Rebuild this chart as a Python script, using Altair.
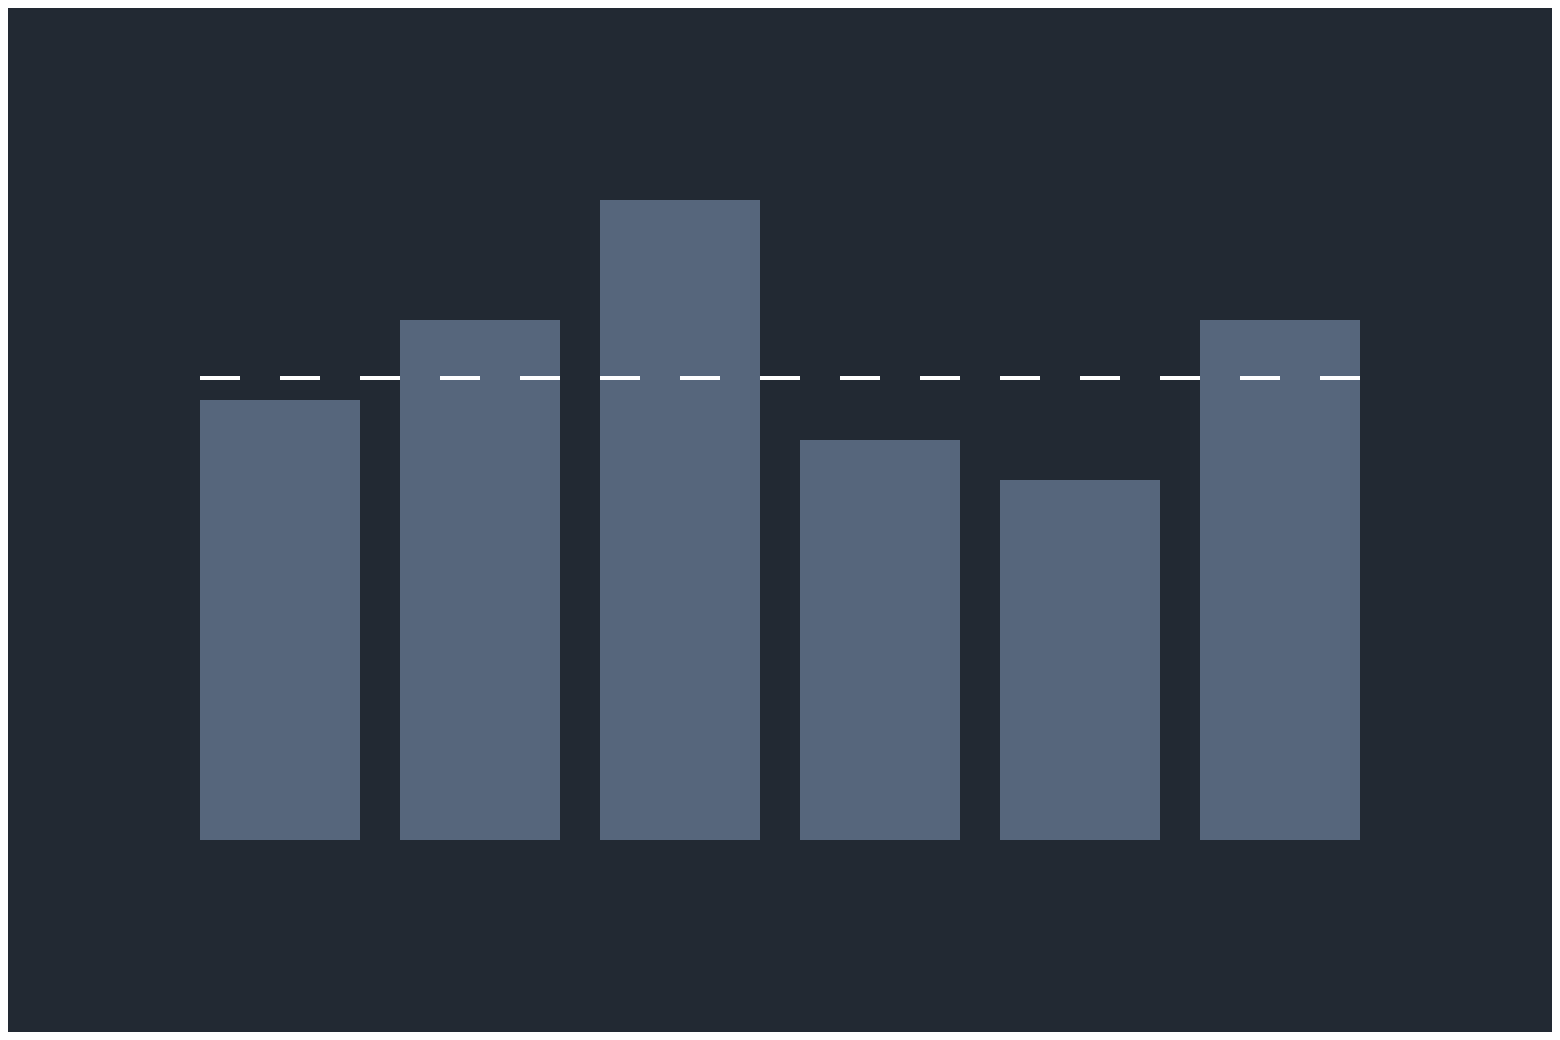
import altair as alt
import pandas as pd

categories = ["A", "B", "C", "D", "E", "F"]
values = [110, 130, 160, 100, 90, 130]
reference_value = [115.5]

df = pd.DataFrame({"cat": categories, "val": values})
ref = pd.DataFrame({"ref": reference_value})

BG = "#222933"
BAR = "#56667c"

y_scale = alt.Scale(domain=[0, 160], nice=False, zero=True)

bars = alt.Chart(df).mark_bar(color=BAR).encode(
    x=alt.X("cat:N", sort=categories, axis=None,
            scale=alt.Scale(paddingInner=0.2, paddingOuter=0)),
    y=alt.Y("val:Q", axis=None, scale=y_scale),
)

rule = alt.Chart(ref).mark_rule(color="white", strokeWidth=4, strokeDash=[40, 40]).encode(
    y=alt.Y("ref:Q", scale=y_scale, axis=None),
)

chart = alt.layer(bars, rule).properties(
    width=1160,
    height=640,
    background=BG,
    padding={"left": 192, "top": 192, "right": 192, "bottom": 192},
    autosize=alt.AutoSizeParams(type="none"),
).configure_view(stroke=None)

chart.save("out.html", embed_options={"renderer": "svg", "actions": False})
